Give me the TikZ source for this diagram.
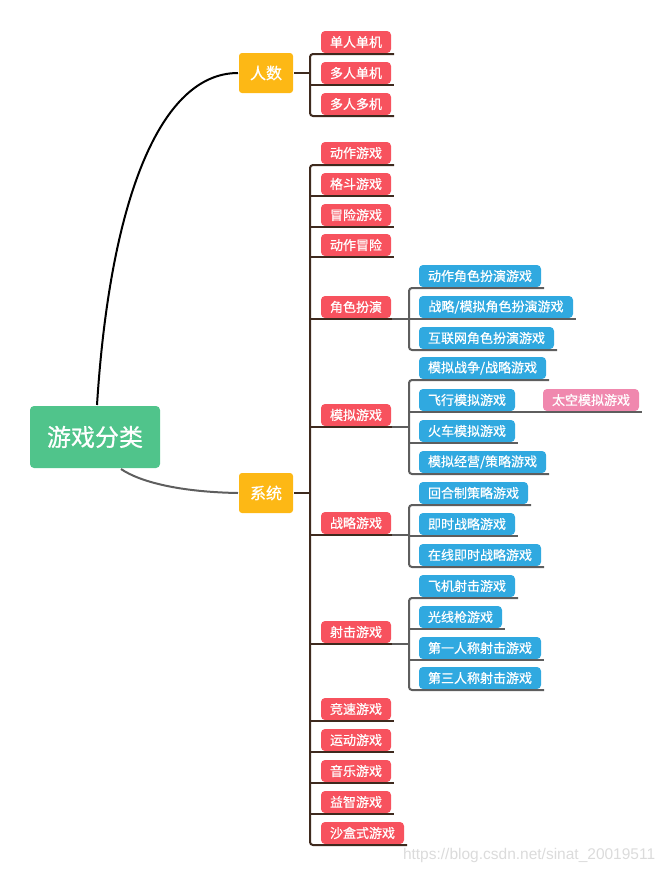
\documentclass[tikz,border=0pt]{standalone}
\usepackage{fontspec}
\newfontfamily\cjk{Noto Sans CJK SC}[FakeBold=0.7]
\newfontfamily\wmfont{Liberation Sans}
\usepackage{tikz}
\usetikzlibrary{positioning}
\definecolor{rootgreen}{HTML}{50C48B}
\definecolor{mainorange}{HTML}{FDB815}
\definecolor{subred}{HTML}{F7525E}
\definecolor{leafblue}{HTML}{30A9E0}
\definecolor{extrapink}{HTML}{F088AE}
\definecolor{bracketbrown}{HTML}{3E2A1E}
\definecolor{bracketgray}{HTML}{5E5E5E}
\begin{document}
\begin{tikzpicture}[x=1pt,y=-1pt,line width=2pt,
        root/.style={fill=rootgreen,text=white,rounded corners=4pt,anchor=north west,
                     minimum width=130pt,minimum height=62pt,font=\cjk\fontsize{24}{24}\selectfont},
        topic/.style={fill=mainorange,text=white,rounded corners=3pt,anchor=north west,
                      minimum width=54pt,minimum height=40pt,font=\cjk\fontsize{16}{16}\selectfont},
        sub/.style={fill=subred,text=white,rounded corners=4pt,anchor=north west,inner xsep=9pt,
                    inner ysep=0pt,minimum height=22pt,font=\cjk\fontsize{13}{13}\selectfont},
        leaf/.style={sub,fill=leafblue},
        extra/.style={sub,fill=extrapink},
        brown/.style={draw=bracketbrown,rounded corners=3pt},
        gray/.style={draw=bracketgray,rounded corners=3pt}]
                \useasboundingbox (0,0) rectangle (668,873);
                % bracket columns
                \coordinate (bx_m) at (310,0);
                \coordinate (bx_s) at (409,0);

                \node[root] (game) at (29,405) {游戏分类};
                \node[topic] (num) at (238,52) {人数};
                \node[topic] (sys) at (238,472) {系统};

                \node[sub] (num_1) at (320,30) {单人单机};
                \node[sub] (num_2) at (320,61) {多人单机};
                \node[sub] (num_3) at (320,92) {多人多机};

                \node[sub] (sys_1) at (320,141) {动作游戏};
                \node[sub] (sys_2) at (320,172) {格斗游戏};
                \node[sub] (sys_3) at (320,203) {冒险游戏};
                \node[sub] (sys_4) at (320,233) {动作冒险};
                \node[sub] (rpg) at (320,295) {角色扮演};
                \node[sub] (sim) at (320,403) {模拟游戏};
                \node[sub] (stg) at (320,511) {战略游戏};
                \node[sub] (sht) at (320,620) {射击游戏};
                \node[sub] (sys_5) at (320,697) {竞速游戏};
                \node[sub] (sys_6) at (320,728) {运动游戏};
                \node[sub] (sys_7) at (320,759) {音乐游戏};
                \node[sub] (sys_8) at (320,790) {益智游戏};
                \node[sub] (sys_9) at (320,821) {沙盒式游戏};

                \node[leaf] (rpg_1) at (418,264) {动作角色扮演游戏};
                \node[leaf,minimum width=154pt] (rpg_2) at (418,295) {战略/模拟角色扮演游戏};
                \node[leaf] (rpg_3) at (418,326) {互联网角色扮演游戏};

                \node[leaf] (sim_1) at (418,356) {模拟战争/战略游戏};
                \node[leaf] (sim_2) at (418,388) {飞行模拟游戏};
                \node[extra] (sim_x) at (542,388) {太空模拟游戏};
                \node[leaf] (sim_3) at (418,419) {火车模拟游戏};
                \node[leaf] (sim_4) at (418,450) {模拟经营/策略游戏};

                \node[leaf] (stg_1) at (418,481) {回合制策略游戏};
                \node[leaf] (stg_2) at (418,512) {即时战略游戏};
                \node[leaf] (stg_3) at (418,543) {在线即时战略游戏};

                \node[leaf] (sht_1) at (418,574) {飞机射击游戏};
                \node[leaf] (sht_2) at (418,605) {光线枪游戏};
                \node[leaf] (sht_3) at (418,636) {第一人称射击游戏};
                \node[leaf] (sht_4) at (418,666) {第三人称射击游戏};

                \node[text=black!14,font=\wmfont\fontsize{15.5}{15.5}\selectfont,anchor=west,inner sep=0pt] (mark) at (402,855)
                      {https://blog.csdn.net/sinat\_20019511};

                % root to topics
                \draw[black] ([xshift=2pt]game.north) .. controls (110,200) and (160,73) .. (num.west);
                \draw[bracketgray] ([xshift=26pt]game.south) .. controls (140,482) and (180,492) .. (sys.west);

                % 人数
                \draw[brown] (num.east) -- (num.east -| bx_m);
                \draw[brown] ([xshift=2pt]num_1.south east) -- (num_1.south -| bx_m)
                      -- (num_3.south -| bx_m) -- ([xshift=2pt]num_3.south east);
                \draw[brown] (num_2.south -| bx_m) -- ([xshift=2pt]num_2.south east);

                % 系统
                \draw[brown] (sys.east) -- (sys.east -| bx_m);
                \draw[brown] ([xshift=2pt]sys_1.south east) -- (sys_1.south -| bx_m)
                      -- (sys_9.south -| bx_m) -- ([xshift=2pt]sys_9.south east);
                \draw[brown] (sys_2.south -| bx_m) -- ([xshift=2pt]sys_2.south east);
                \draw[brown] (sys_3.south -| bx_m) -- ([xshift=2pt]sys_3.south east);
                \draw[brown] (sys_4.south -| bx_m) -- ([xshift=2pt]sys_4.south east);
                \draw[brown] (sys_5.south -| bx_m) -- ([xshift=2pt]sys_5.south east);
                \draw[brown] (sys_6.south -| bx_m) -- ([xshift=2pt]sys_6.south east);
                \draw[brown] (sys_7.south -| bx_m) -- ([xshift=2pt]sys_7.south east);
                \draw[brown] (sys_8.south -| bx_m) -- ([xshift=2pt]sys_8.south east);
                \draw[brown] (rpg.south -| bx_m) -- (rpg.south east);
                \draw[brown] (sim.south -| bx_m) -- (sim.south east);
                \draw[brown] (stg.south -| bx_m) -- (stg.south east);
                \draw[brown] (sht.south -| bx_m) -- (sht.south east);

                % 角色扮演
                \draw[gray] (rpg.south east) -- (rpg.south -| bx_s);
                \draw[gray] ([xshift=2pt]rpg_1.south east) -- (rpg_1.south -| bx_s)
                      -- (rpg_3.south -| bx_s) -- ([xshift=2pt]rpg_3.south east);
                \draw[gray] (rpg_2.south -| bx_s) -- ([xshift=2pt]rpg_2.south east);

                % 模拟游戏
                \draw[gray] (sim.south east) -- (sim.south -| bx_s);
                \draw[gray] ([xshift=2pt]sim_1.south east) -- (sim_1.south -| bx_s)
                      -- (sim_4.south -| bx_s) -- ([xshift=2pt]sim_4.south east);
                \draw[gray] (sim_2.south -| bx_s) -- (sim_2.south east);
                \draw[gray] (sim_2.south east) -- ([xshift=2pt]sim_x.south east);
                \draw[gray] (sim_3.south -| bx_s) -- ([xshift=2pt]sim_3.south east);

                % 战略游戏
                \draw[gray] (stg.south east) -- (stg.south -| bx_s);
                \draw[gray] ([xshift=2pt]stg_1.south east) -- (stg_1.south -| bx_s)
                      -- (stg_3.south -| bx_s) -- ([xshift=2pt]stg_3.south east);
                \draw[gray] (stg_2.south -| bx_s) -- ([xshift=2pt]stg_2.south east);

                % 射击游戏
                \draw[gray] (sht.south east) -- (sht.south -| bx_s);
                \draw[gray] ([xshift=2pt]sht_1.south east) -- (sht_1.south -| bx_s)
                      -- (sht_4.south -| bx_s) -- ([xshift=2pt]sht_4.south east);
                \draw[gray] (sht_2.south -| bx_s) -- ([xshift=2pt]sht_2.south east);
                \draw[gray] (sht_3.south -| bx_s) -- ([xshift=2pt]sht_3.south east);
\end{tikzpicture}
\end{document}
